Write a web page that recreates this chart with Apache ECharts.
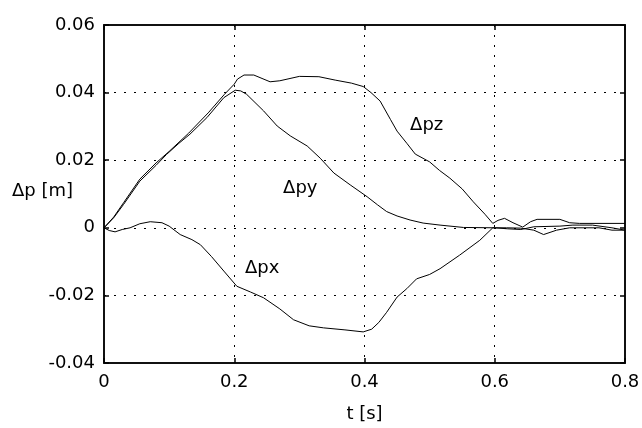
<!DOCTYPE html>
<html><head><meta charset="utf-8">
<script src="https://cdn.jsdelivr.net/npm/echarts@6/dist/echarts.min.js"></script>
<style>html,body{margin:0;padding:0;background:#fff}#c{width:642px;height:428px}</style>
</head><body><div id="c"></div>
<script>
const xTicks = [0, 0.2, 0.4, 0.6, 0.8];
const yTicks = [-0.04, -0.02, 0, 0.02, 0.04, 0.06];

const tPx = [0,0.008,0.017,0.028,0.04,0.055,0.071,0.089,0.1,0.117,0.135,0.148,0.165,0.184,0.204,0.225,0.245,0.27,0.291,0.315,0.337,0.37,0.398,0.411,0.422,0.434,0.45,0.465,0.48,0.5,0.516,0.546,0.577,0.597,0.618,0.64,0.66,0.675,0.695,0.715,0.76,0.78,0.8];
const px  = [0,-0.0008,-0.0012,-0.0005,0,0.0012,0.0018,0.0015,0.0005,-0.002,-0.0035,-0.005,-0.0085,-0.0128,-0.0173,-0.019,-0.0207,-0.024,-0.0272,-0.029,-0.0296,-0.0302,-0.0308,-0.03,-0.028,-0.025,-0.0205,-0.018,-0.0151,-0.0138,-0.0121,-0.0081,-0.0037,0,0,-0.0001,-0.0007,-0.002,-0.0007,0,0,-0.0007,-0.0007];

const tPy = [0,0.015,0.03,0.055,0.08,0.096,0.115,0.132,0.158,0.184,0.2015,0.21,0.219,0.245,0.266,0.286,0.312,0.332,0.353,0.378,0.404,0.42,0.434,0.45,0.47,0.49,0.516,0.552,0.6,0.62,0.64,0.66,0.7,0.72,0.75,0.78,0.8];
const py  = [0,0.003,0.0069,0.0138,0.0185,0.0217,0.025,0.0277,0.0326,0.0385,0.0407,0.0405,0.0395,0.0346,0.0301,0.0272,0.0242,0.0206,0.0162,0.0127,0.0092,0.0068,0.0048,0.0035,0.0023,0.0014,0.0008,0.0001,0,-0.0003,-0.0005,0.0003,0.0005,0.0008,0.0008,0,-0.0007];

const tPz = [0,0.015,0.03,0.055,0.08,0.1,0.13,0.16,0.185,0.2,0.205,0.215,0.23,0.255,0.27,0.3,0.33,0.355,0.38,0.398,0.41,0.424,0.44,0.45,0.465,0.478,0.5,0.515,0.531,0.55,0.567,0.585,0.597,0.605,0.615,0.628,0.643,0.655,0.665,0.7,0.715,0.73,0.8];
const pz  = [0,0.0032,0.0074,0.0144,0.0192,0.0226,0.028,0.034,0.0395,0.0425,0.044,0.0452,0.0452,0.0432,0.0435,0.0448,0.0447,0.0437,0.0428,0.0418,0.04,0.0375,0.032,0.0286,0.025,0.0218,0.0195,0.017,0.0147,0.0115,0.0077,0.004,0.0013,0.0022,0.0028,0.0015,0.0002,0.0018,0.0025,0.0025,0.0015,0.0013,0.0013];

const labels = [
  {name: 'Δpx', coord: [0.2165, -0.0119]},
  {name: 'Δpy', coord: [0.275, 0.0118]},
  {name: 'Δpz', coord: [0.47, 0.0304]}
];

const FONT = 'DejaVu Sans';
const zip = (t, v) => t.map((x, i) => [x, v[i]]);

function lineSeries(name, t, v, lab) {
  return {
    name, type: 'line', data: zip(t, v), showSymbol: false, symbol: 'none',
    lineStyle: {color: '#000', width: 1}, animation: false,
    markPoint: {
      symbol: 'circle', symbolSize: 0, animation: false,
      data: [{coord: lab.coord, name: lab.name}],
      label: {show: true, position: 'right', distance: 0, formatter: lab.name,
              color: '#000', fontFamily: FONT, fontSize: 18}
    }
  };
}

const chart = echarts.init(document.getElementById('c'), null, {renderer: 'canvas'});
const axLine = {show: true, onZero: false, lineStyle: {color: '#111', width: 2}};
const tick = {inside: true, length: 5, lineStyle: {color: '#000', width: 1.5}};
chart.setOption({
  backgroundColor: '#fff',
  animation: false,
  grid: {left: 104, right: 17, top: 25, bottom: 65, containLabel: false, outerBoundsMode: 'none'},
  graphic: [{
    type: 'text', left: 12, top: 182,
    style: {text: 'Δp [m]', fill: '#000', font: '18px "DejaVu Sans"'}
  }],
  xAxis: [{
    type: 'value', min: 0, max: 0.8, interval: 0.2,
    axisLine: axLine, axisTick: tick,
    axisLabel: {color: '#000', fontFamily: FONT, fontSize: 18, margin: 10,
                formatter: v => String(+v.toFixed(2))},
    splitLine: {show: true, lineStyle: {color: '#000', type: [2, 8], width: 1}},
    name: 't [s]', nameLocation: 'middle', nameGap: 42, nameMoveOverlap: false,
    nameTextStyle: {color: '#000', fontFamily: FONT, fontSize: 18}
  }, {
    type: 'value', position: 'top', min: 0, max: 0.8, interval: 0.2,
    axisLine: axLine, axisTick: tick,
    axisLabel: {show: false}, splitLine: {show: false}
  }],
  yAxis: [{
    type: 'value', min: -0.04, max: 0.06, interval: 0.02,
    axisLine: axLine, axisTick: tick,
    axisLabel: {color: '#000', fontFamily: FONT, fontSize: 18, margin: 9,
                formatter: v => String(+v.toFixed(2))},
    splitLine: {show: true, lineStyle: {color: '#000', type: [2, 8], width: 1}}
  }, {
    type: 'value', position: 'right', min: -0.04, max: 0.06, interval: 0.02,
    axisLine: axLine, axisTick: tick,
    axisLabel: {show: false}, splitLine: {show: false}
  }],
  series: [
    lineSeries('Δpx', tPx, px, labels[0]),
    lineSeries('Δpy', tPy, py, labels[1]),
    lineSeries('Δpz', tPz, pz, labels[2])
  ]
});
</script></body></html>
